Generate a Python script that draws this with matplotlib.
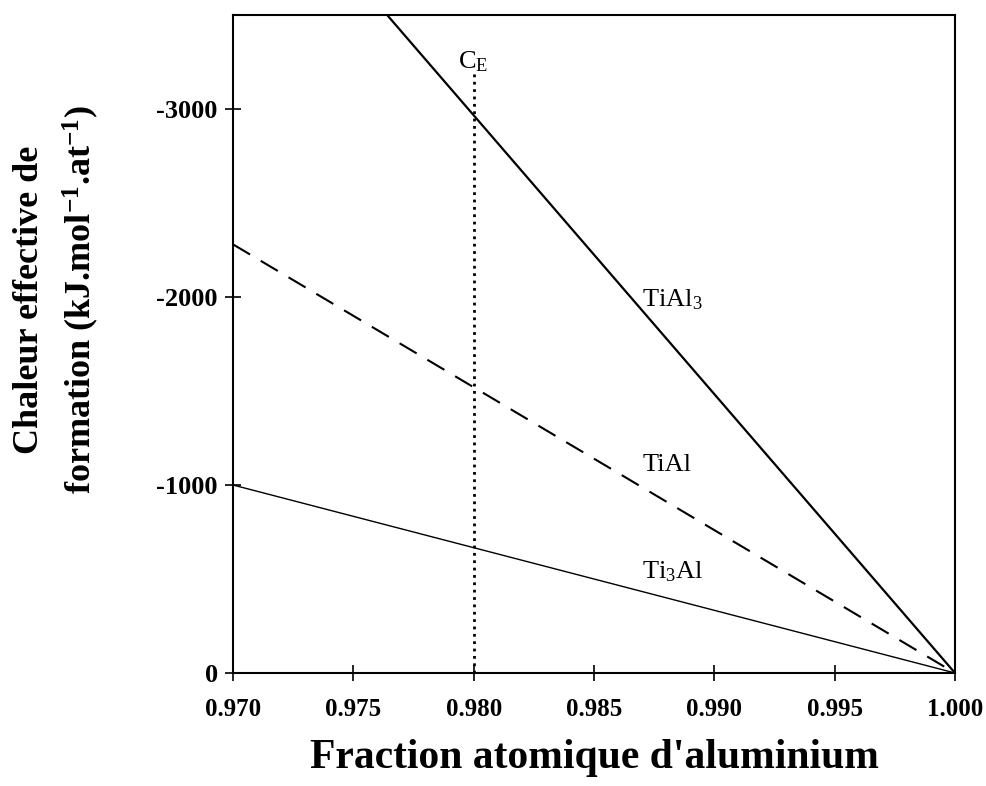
import numpy as np
import matplotlib
matplotlib.use('Agg')
import matplotlib.pyplot as plt

# donnees
x_al = [0.970, 1.000]
h_tial3 = [-4450, 0]
h_tial = [-2280, 0]
h_ti3al = [-1000, 0]
c_e = 0.980
c_e_top = -3200

phases = ['TiAl$_3$', 'TiAl', 'Ti$_3$Al']
label_x = [0.9870, 0.9870, 0.9870]
label_y = [-1984, -1106, -537]

xticks = [0.970, 0.975, 0.980, 0.985, 0.990, 0.995, 1.000]
yticks = [0, -1000, -2000, -3000]

plt.rcParams['font.family'] = ['Liberation Serif', 'DejaVu Serif']
plt.rcParams['mathtext.fontset'] = 'custom'
plt.rcParams['mathtext.rm'] = 'Liberation Serif'
plt.rcParams['mathtext.it'] = 'Liberation Serif:italic'
plt.rcParams['mathtext.bf'] = 'Liberation Serif:bold'

fig = plt.figure(figsize=(9.86, 7.86), dpi=100)
ax = fig.add_axes([233/986, 1-673/786, (955-233)/986, (673-15)/786])

ax.plot(x_al, h_tial3, color='black', lw=1.6)
ax.plot(x_al, h_tial, color='black', lw=1.5, dashes=(9.5, 6))
ax.plot(x_al, h_ti3al, color='black', lw=1.0)
ax.plot([c_e, c_e], [0, c_e_top], color='black', lw=2, ls=':')

for name, lx, ly in zip(phases, label_x, label_y):
    ax.text(lx, ly, name, fontsize=19, ha='left', va='center')
ax.text(0.97935, -3250, r'C$_\mathregular{E}$', fontsize=19, ha='left', va='center')

ax.set_xlim(0.970, 1.000)
ax.set_ylim(0, -3500)
ax.set_xticks(xticks)
ax.set_yticks(yticks)
ax.set_xticklabels(['%.3f' % v for v in xticks], fontsize=18, fontweight='bold')
ax.set_yticklabels([str(v) for v in yticks], fontsize=19, fontweight='bold')
ax.tick_params(direction='inout', length=12, width=1.2)
ax.tick_params(axis='x', pad=12)
ax.tick_params(axis='y', pad=5)
for s in ax.spines.values():
    s.set_linewidth(1.5)

fig.text(594/986, 1-758/786, "Fraction atomique d'aluminium", fontsize=30,
         fontweight='bold', ha='center', va='center')
fig.text(57/986, 1-300/786,
         'Chaleur effective de\nformation (kJ.mol$^{\\mathbf{-1}}$.at$^{\\mathbf{-1}}$)',
         fontsize=26, fontweight='bold', rotation=90, ha='center', va='center',
         multialignment='center', linespacing=1.45)

fig.savefig('out.png', dpi=100)
